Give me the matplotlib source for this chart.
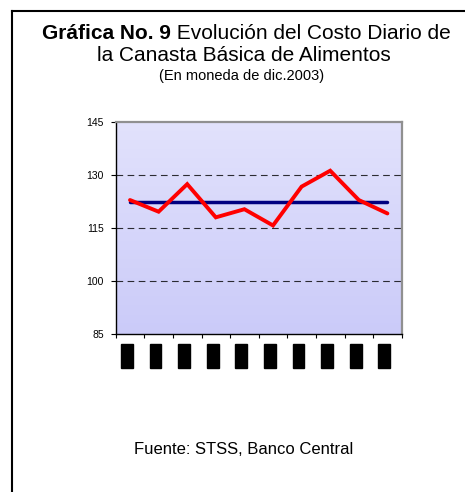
import matplotlib.pyplot as plt
import numpy as np
from matplotlib.patches import Rectangle
from matplotlib.lines import Line2D

plt.rcParams['font.family'] = ['Liberation Sans', 'DejaVu Sans']

# data
costo = [123.0, 119.7, 127.5, 118.1, 120.4, 115.8, 126.8, 131.3, 123.0, 119.2]
promedio = [122.4] * 10
y_ticks = [85, 100, 115, 130, 145]

n = len(costo)
x = np.arange(n)

W, H = 465, 492
fig = plt.figure(figsize=(W / 100, H / 100), dpi=100)
fig.patch.set_facecolor('white')

# outer frame (left and top lines only)
fig.add_artist(Line2D([11.5/W, 11.5/W], [0, 1 - 10.5/H], color='black', lw=1.5))
fig.add_artist(Line2D([11.5/W, 1], [1 - 10.5/H, 1 - 10.5/H], color='black', lw=1.5))

ax = fig.add_axes([115.7/W, 1 - 334.3/H, 286/W, 212/H])

# gradient background
grad = np.linspace(0, 1, 100).reshape(-1, 1)
top = np.array([0.886, 0.886, 0.988])
bot = np.array([0.796, 0.796, 0.976])
img = top + (bot - top) * grad[:, :, None]
ax.imshow(img, extent=[-0.5, n - 0.5, 85, 145], aspect='auto', zorder=0)

ax.set_xlim(-0.5, n - 0.5)
ax.set_ylim(85, 145)

for v in [100, 115, 130]:
    ax.axhline(v, color='black', lw=0.8, dashes=(6, 4), zorder=1, alpha=0.8)

ax.plot(x, promedio, color='#000080', lw=2.5, solid_capstyle='round', zorder=2)
ax.plot(x, costo, color='#ff0000', lw=2.8, solid_capstyle='round', solid_joinstyle='miter', zorder=3)

ax.set_yticks(y_ticks)
ax.set_yticklabels([str(t) for t in y_ticks], fontsize=7.5)
ax.set_xticks(np.arange(-0.5, n, 1.0))
ax.set_xticklabels([])
ax.tick_params(axis='y', direction='out', length=3.6, width=0.8, color='black', pad=5)
ax.tick_params(axis='x', direction='out', length=3, width=0.8, color='black')

ax.spines['left'].set_color('black')
ax.spines['bottom'].set_color('black')
ax.spines['left'].set_linewidth(1.0)
ax.spines['bottom'].set_linewidth(1.0)
ax.spines['top'].set_color('#909090')
ax.spines['right'].set_color('#909090')
ax.spines['top'].set_linewidth(1.6)
ax.spines['right'].set_linewidth(1.6)

# hidden category labels (black boxes)
trans = ax.get_xaxis_transform()
for xi in x:
    ax.add_patch(Rectangle((xi - 0.11 - 0.205, -0.157), 0.41, 0.112, transform=trans,
                           color='black', clip_on=False))

# title: bold part + normal part on first line
renderer = fig.canvas.get_renderer()
t1 = fig.text(0, 0, 'Gráfica No. 9', fontsize=15, fontweight='bold', va='baseline')
t2 = fig.text(0, 0, ' Evolución del Costo Diario de', fontsize=15, va='baseline')
w1 = t1.get_window_extent(renderer).width
w2 = t2.get_window_extent(renderer).width
cx = 246
x0 = cx - (w1 + w2) / 2
t1.set_position((x0 / W, 1 - 39/H))
t2.set_position(((x0 + w1) / W, 1 - 39/H))

fig.text(244/W, 1 - 61/H, 'la Canasta Básica de Alimentos', fontsize=15, ha='center', va='baseline')
fig.text(242/W, 1 - 80/H, '(En moneda de dic.2003)', fontsize=10.5, ha='center', va='baseline')
fig.text(244/W, 1 - 454/H, 'Fuente: STSS, Banco Central', fontsize=12, ha='center', va='baseline')

fig.savefig('out.png', dpi=100)
